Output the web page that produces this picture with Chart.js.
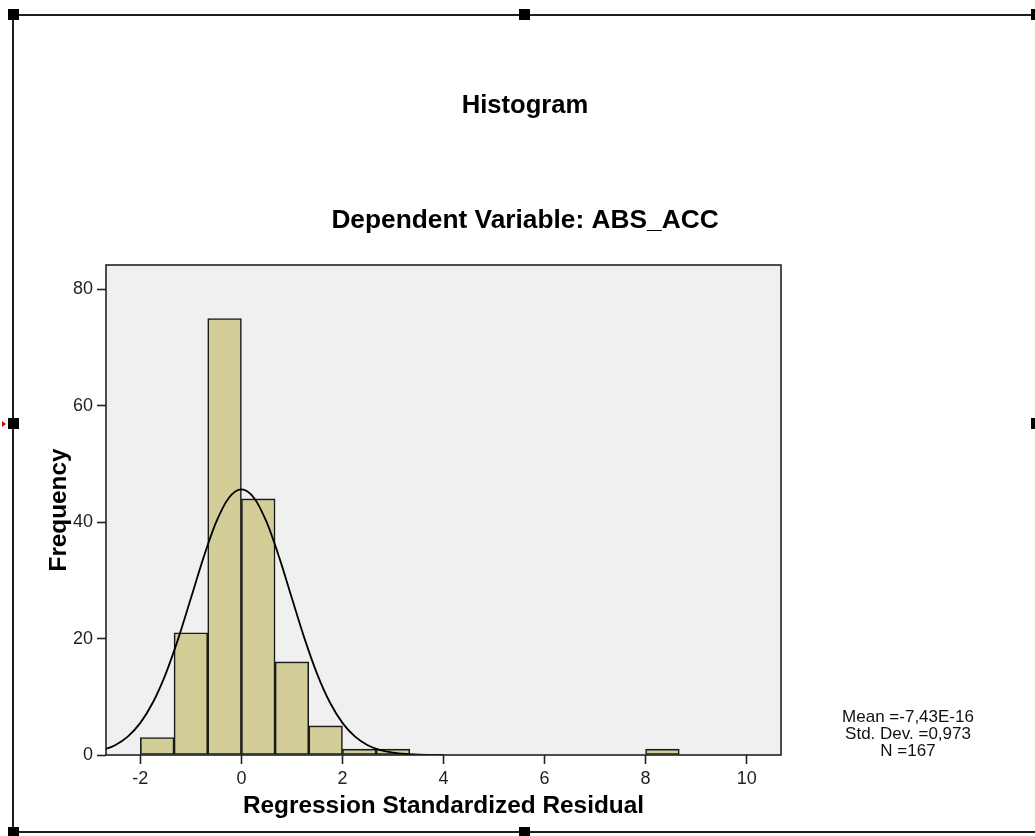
<!DOCTYPE html>
<html>
<head>
<meta charset="utf-8">
<script src="https://cdn.jsdelivr.net/npm/chart.js@4/dist/chart.umd.min.js"></script>
<style>
  html, body { margin: 0; padding: 0; background: #fff; }
  #wrap { position: relative; width: 1035px; height: 836px; overflow: hidden; }
  canvas { position: absolute; left: 0; top: 0; }
  .ln { position: absolute; background: #1e1e1e; }
  .hd { position: absolute; width: 11px; height: 11px; background: #000; }
  .red { position: absolute; left: 2px; top: 421px; width: 0; height: 0;
         border-top: 3px solid transparent; border-bottom: 3px solid transparent; border-left: 4px solid #e00000; }
</style>
</head>
<body>
<div id="wrap">
  <canvas id="c" width="1035" height="836"></canvas>
  <div class="ln" style="left:12px; top:14px; width:1023px; height:2px;"></div>
  <div class="ln" style="left:12px; top:14px; width:2px; height:818px;"></div>
  <div class="ln" style="left:12px; top:831px; width:1023px; height:2px;"></div>
  <div class="hd" style="left:8px; top:9px;"></div>
  <div class="hd" style="left:519px; top:9px;"></div>
  <div class="hd" style="left:1031px; top:9px;"></div>
  <div class="hd" style="left:8px; top:418px;"></div>
  <div class="hd" style="left:1031px; top:418px;"></div>
  <div class="hd" style="left:8px; top:827px;"></div>
  <div class="hd" style="left:519px; top:827px;"></div>
  <div class="red"></div>
</div>
<script>
// ---- data ----
const chartTitle = "Histogram";
const chartSubtitle = "Dependent Variable: ABS_ACC";
const xTitle = "Regression Standardized Residual";
const yTitle = "Frequency";
const binWidth = 2 / 3;
const binStarts = [-2, -4/3, -2/3, 0, 2/3, 4/3, 2, 8/3, 8];
const frequencies = [3, 21, 75, 44, 16, 5, 1, 1, 1];
const curveX = [-2.75, -2.5, -2.25, -2, -1.75, -1.5, -1.25, -1, -0.75, -0.5, -0.25, 0,
                0.25, 0.5, 0.75, 1, 1.25, 1.5, 1.75, 2, 2.25, 2.5, 2.75, 3, 3.25, 3.5, 3.75, 4];
const curveY = [0.84, 1.68, 3.15, 5.52, 9.06, 13.91, 20.0, 26.92, 33.92, 40.0, 44.17, 45.65,
                44.17, 40.0, 33.92, 26.92, 20.0, 13.91, 9.06, 5.52, 3.15, 1.68, 0.84, 0.39, 0.17, 0.07, 0.03, 0.01];
const xTicks = [-2, 0, 2, 4, 6, 8, 10];
const yTicks = [0, 20, 40, 60, 80];
const xRange = [-2.68, 10.68];
const yRange = [0, 84.2];
const statsLines = ["Mean =-7,43E-16", "Std. Dev. =0,973", "N =167"];

const FONT = "'Liberation Sans', Arial, Helvetica, sans-serif";

const barData = binStarts.map((s, i) => ({ x: s + binWidth / 2, y: frequencies[i] }));
const curveData = curveX.map((x, i) => ({ x: x, y: curveY[i] }));

const decor = {
  id: 'decor',
  beforeDatasetsDraw(chart) {
    const { ctx, chartArea: a } = chart;
    ctx.save();
    ctx.fillStyle = '#f0f0f0';
    ctx.fillRect(a.left, a.top, a.right - a.left, a.bottom - a.top);
    ctx.restore();
  },
  afterDraw(chart) {
    const { ctx, chartArea: a } = chart;
    ctx.save();
    ctx.strokeStyle = '#222';
    ctx.lineWidth = 1.6;
    ctx.strokeRect(a.left, a.top, a.right - a.left, a.bottom - a.top);
    ctx.fillStyle = '#000';
    ctx.textAlign = 'center';
    ctx.textBaseline = 'middle';
    ctx.font = 'bold 25.6px ' + FONT;
    ctx.fillText(chartTitle, 525, 106);
    ctx.font = 'bold 26.3px ' + FONT;
    ctx.fillText(chartSubtitle, 525, 221);
    ctx.font = '17px ' + FONT;
    ctx.fillStyle = '#111';
    const ys = [717, 734, 751];
    statsLines.forEach((t, i) => ctx.fillText(t, 908, ys[i]));
    ctx.restore();
  }
};

new Chart(document.getElementById('c'), {
  data: {
    datasets: [
      {
        type: 'line',
        data: curveData,
        borderColor: '#000',
        borderWidth: 1.8,
        pointRadius: 0,
        cubicInterpolationMode: 'monotone',
        fill: false,
        order: 0
      },
      {
        type: 'bar',
        data: barData,
        backgroundColor: '#d3ce97',
        borderColor: '#1a1a1a',
        borderWidth: 1.6,
        borderSkipped: false,
        barPercentage: 1,
        categoryPercentage: 1,
        order: 1
      }
    ]
  },
  options: {
    responsive: false,
    animation: false,
    events: [],
    layout: { padding: { top: 265, right: 254, left: 0, bottom: 0 } },
    plugins: { legend: { display: false }, tooltip: { enabled: false } },
    scales: {
      x: {
        type: 'linear',
        offset: false,
        min: xRange[0],
        max: xRange[1],
        afterBuildTicks: s => { s.ticks = xTicks.map(v => ({ value: v })); },
        afterFit: s => { s.height = 81; },
        border: { display: false },
        grid: { offset: false, drawOnChartArea: false, drawTicks: true, tickLength: 9, tickColor: '#222', tickWidth: 1.6 },
        ticks: { color: '#222', font: { family: FONT, size: 18 }, padding: 4, maxRotation: 0 },
        title: { display: true, text: xTitle, color: '#000', font: { family: FONT, size: 24.4, weight: 'bold' }, padding: { top: 0, bottom: 15 } }
      },
      y: {
        type: 'linear',
        min: yRange[0],
        max: yRange[1],
        afterBuildTicks: s => { s.ticks = yTicks.map(v => ({ value: v })); },
        afterFit: s => { s.width = 106; },
        border: { display: false },
        grid: { drawOnChartArea: false, drawTicks: true, tickLength: 9, tickColor: '#222', tickWidth: 1.6 },
        ticks: { color: '#222', font: { family: FONT, size: 18 }, padding: 4 },
        title: { display: true, text: yTitle, color: '#000', font: { family: FONT, size: 24.3, weight: 'bold' }, padding: { top: 45, bottom: 0 } }
      }
    }
  },
  plugins: [decor]
});
</script>
</body>
</html>
